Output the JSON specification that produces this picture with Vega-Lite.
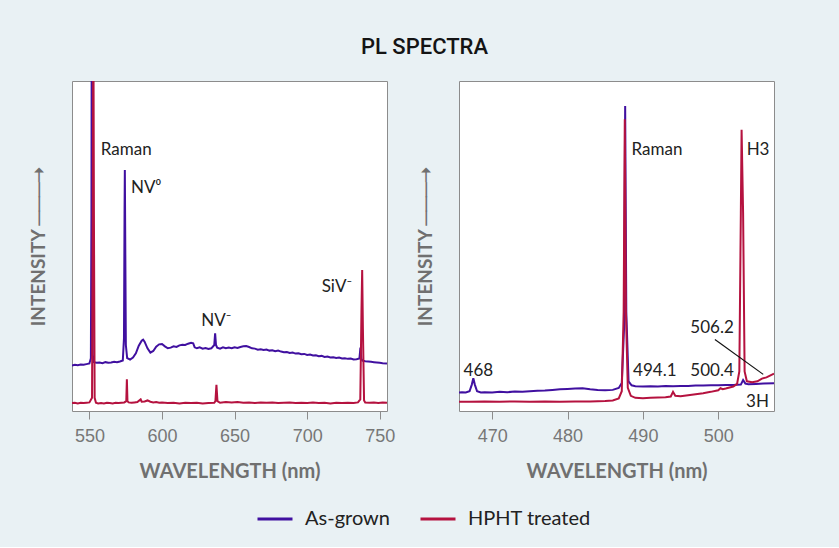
{
  "$schema": "https://vega.github.io/schema/vega-lite/v6.json",
  "background": "#E9F1F4",
  "padding": {"left": 28, "top": 35, "right": 64, "bottom": 18},
  "title": {"text": "PL SPECTRA", "font": "Roboto", "fontSize": 22, "fontWeight": 500, "color": "#141414", "offset": 22, "anchor": "middle", "dx": 23},
  "datasets": {
    "leftSpec": [
      {"wl": 538, "intensity": 13.8, "series": "As-grown"},
      {"wl": 540, "intensity": 14.0, "series": "As-grown"},
      {"wl": 542, "intensity": 13.9, "series": "As-grown"},
      {"wl": 544, "intensity": 14.1, "series": "As-grown"},
      {"wl": 546, "intensity": 14.0, "series": "As-grown"},
      {"wl": 548, "intensity": 14.2, "series": "As-grown"},
      {"wl": 550, "intensity": 14.4, "series": "As-grown"},
      {"wl": 551.0, "intensity": 16, "series": "As-grown"},
      {"wl": 551.4, "intensity": 60, "series": "As-grown"},
      {"wl": 551.6, "intensity": 125, "series": "As-grown"},
      {"wl": 551.9, "intensity": 60, "series": "As-grown"},
      {"wl": 552.3, "intensity": 17, "series": "As-grown"},
      {"wl": 553, "intensity": 14.8, "series": "As-grown"},
      {"wl": 555, "intensity": 14.6, "series": "As-grown"},
      {"wl": 557, "intensity": 14.7, "series": "As-grown"},
      {"wl": 559, "intensity": 14.5, "series": "As-grown"},
      {"wl": 561, "intensity": 14.8, "series": "As-grown"},
      {"wl": 563, "intensity": 14.6, "series": "As-grown"},
      {"wl": 565, "intensity": 14.7, "series": "As-grown"},
      {"wl": 567, "intensity": 14.9, "series": "As-grown"},
      {"wl": 569, "intensity": 14.8, "series": "As-grown"},
      {"wl": 571, "intensity": 15.0, "series": "As-grown"},
      {"wl": 573, "intensity": 15.3, "series": "As-grown"},
      {"wl": 573.8, "intensity": 22, "series": "As-grown"},
      {"wl": 574.2, "intensity": 60, "series": "As-grown"},
      {"wl": 574.4, "intensity": 73, "series": "As-grown"},
      {"wl": 574.7, "intensity": 50, "series": "As-grown"},
      {"wl": 575.1, "intensity": 20, "series": "As-grown"},
      {"wl": 576, "intensity": 16.0, "series": "As-grown"},
      {"wl": 578, "intensity": 15.6, "series": "As-grown"},
      {"wl": 580, "intensity": 16.2, "series": "As-grown"},
      {"wl": 582, "intensity": 17.5, "series": "As-grown"},
      {"wl": 584, "intensity": 19.8, "series": "As-grown"},
      {"wl": 586, "intensity": 21.3, "series": "As-grown"},
      {"wl": 587, "intensity": 21.6, "series": "As-grown"},
      {"wl": 588, "intensity": 21.0, "series": "As-grown"},
      {"wl": 590, "intensity": 19.0, "series": "As-grown"},
      {"wl": 592, "intensity": 17.7, "series": "As-grown"},
      {"wl": 594, "intensity": 18.2, "series": "As-grown"},
      {"wl": 596, "intensity": 19.5, "series": "As-grown"},
      {"wl": 598, "intensity": 20.2, "series": "As-grown"},
      {"wl": 600, "intensity": 20.3, "series": "As-grown"},
      {"wl": 602, "intensity": 19.6, "series": "As-grown"},
      {"wl": 604, "intensity": 19.0, "series": "As-grown"},
      {"wl": 606, "intensity": 19.2, "series": "As-grown"},
      {"wl": 608, "intensity": 19.6, "series": "As-grown"},
      {"wl": 610, "intensity": 19.4, "series": "As-grown"},
      {"wl": 612, "intensity": 19.9, "series": "As-grown"},
      {"wl": 614, "intensity": 20.1, "series": "As-grown"},
      {"wl": 616, "intensity": 20.0, "series": "As-grown"},
      {"wl": 618, "intensity": 20.4, "series": "As-grown"},
      {"wl": 620, "intensity": 20.7, "series": "As-grown"},
      {"wl": 621.5, "intensity": 20.5, "series": "As-grown"},
      {"wl": 622.5, "intensity": 19.3, "series": "As-grown"},
      {"wl": 624, "intensity": 19.0, "series": "As-grown"},
      {"wl": 626, "intensity": 19.3, "series": "As-grown"},
      {"wl": 628, "intensity": 18.9, "series": "As-grown"},
      {"wl": 630, "intensity": 19.1, "series": "As-grown"},
      {"wl": 632, "intensity": 18.8, "series": "As-grown"},
      {"wl": 634, "intensity": 19.0, "series": "As-grown"},
      {"wl": 636, "intensity": 20, "series": "As-grown"},
      {"wl": 636.6, "intensity": 23.5, "series": "As-grown"},
      {"wl": 637.2, "intensity": 20, "series": "As-grown"},
      {"wl": 638, "intensity": 19.2, "series": "As-grown"},
      {"wl": 640, "intensity": 18.9, "series": "As-grown"},
      {"wl": 642, "intensity": 19.3, "series": "As-grown"},
      {"wl": 644, "intensity": 19.0, "series": "As-grown"},
      {"wl": 646, "intensity": 19.2, "series": "As-grown"},
      {"wl": 648, "intensity": 19.0, "series": "As-grown"},
      {"wl": 650, "intensity": 19.3, "series": "As-grown"},
      {"wl": 652, "intensity": 19.1, "series": "As-grown"},
      {"wl": 654, "intensity": 19.4, "series": "As-grown"},
      {"wl": 656, "intensity": 19.6, "series": "As-grown"},
      {"wl": 658, "intensity": 19.7, "series": "As-grown"},
      {"wl": 660, "intensity": 19.4, "series": "As-grown"},
      {"wl": 662, "intensity": 19.0, "series": "As-grown"},
      {"wl": 664, "intensity": 18.9, "series": "As-grown"},
      {"wl": 666, "intensity": 18.6, "series": "As-grown"},
      {"wl": 668, "intensity": 18.7, "series": "As-grown"},
      {"wl": 670, "intensity": 18.5, "series": "As-grown"},
      {"wl": 672, "intensity": 18.6, "series": "As-grown"},
      {"wl": 674, "intensity": 18.3, "series": "As-grown"},
      {"wl": 676, "intensity": 18.4, "series": "As-grown"},
      {"wl": 678, "intensity": 18.1, "series": "As-grown"},
      {"wl": 680, "intensity": 18.3, "series": "As-grown"},
      {"wl": 682, "intensity": 18.0, "series": "As-grown"},
      {"wl": 684, "intensity": 17.8, "series": "As-grown"},
      {"wl": 686, "intensity": 17.9, "series": "As-grown"},
      {"wl": 688, "intensity": 17.6, "series": "As-grown"},
      {"wl": 690, "intensity": 17.7, "series": "As-grown"},
      {"wl": 692, "intensity": 17.4, "series": "As-grown"},
      {"wl": 694, "intensity": 17.5, "series": "As-grown"},
      {"wl": 696, "intensity": 17.2, "series": "As-grown"},
      {"wl": 698, "intensity": 17.3, "series": "As-grown"},
      {"wl": 700, "intensity": 17.0, "series": "As-grown"},
      {"wl": 702, "intensity": 17.1, "series": "As-grown"},
      {"wl": 704, "intensity": 16.8, "series": "As-grown"},
      {"wl": 706, "intensity": 16.9, "series": "As-grown"},
      {"wl": 708, "intensity": 16.6, "series": "As-grown"},
      {"wl": 710, "intensity": 16.7, "series": "As-grown"},
      {"wl": 712, "intensity": 16.4, "series": "As-grown"},
      {"wl": 714, "intensity": 16.5, "series": "As-grown"},
      {"wl": 716, "intensity": 16.2, "series": "As-grown"},
      {"wl": 718, "intensity": 16.3, "series": "As-grown"},
      {"wl": 720, "intensity": 16.1, "series": "As-grown"},
      {"wl": 722, "intensity": 16.2, "series": "As-grown"},
      {"wl": 724, "intensity": 15.9, "series": "As-grown"},
      {"wl": 726, "intensity": 16.0, "series": "As-grown"},
      {"wl": 728, "intensity": 15.8, "series": "As-grown"},
      {"wl": 730, "intensity": 15.9, "series": "As-grown"},
      {"wl": 732, "intensity": 15.6, "series": "As-grown"},
      {"wl": 734, "intensity": 15.7, "series": "As-grown"},
      {"wl": 736, "intensity": 15.9, "series": "As-grown"},
      {"wl": 736.7, "intensity": 19.2, "series": "As-grown"},
      {"wl": 737.3, "intensity": 15.8, "series": "As-grown"},
      {"wl": 738, "intensity": 15.3, "series": "As-grown"},
      {"wl": 740, "intensity": 15.1, "series": "As-grown"},
      {"wl": 742, "intensity": 15.0, "series": "As-grown"},
      {"wl": 744, "intensity": 14.9, "series": "As-grown"},
      {"wl": 746, "intensity": 14.8, "series": "As-grown"},
      {"wl": 748, "intensity": 14.7, "series": "As-grown"},
      {"wl": 750, "intensity": 14.6, "series": "As-grown"},
      {"wl": 752, "intensity": 14.5, "series": "As-grown"},
      {"wl": 755, "intensity": 14.4, "series": "As-grown"},
      {"wl": 538, "intensity": 2.4, "series": "HPHT treated"},
      {"wl": 540, "intensity": 2.5, "series": "HPHT treated"},
      {"wl": 542, "intensity": 2.3, "series": "HPHT treated"},
      {"wl": 544, "intensity": 2.5, "series": "HPHT treated"},
      {"wl": 546, "intensity": 2.4, "series": "HPHT treated"},
      {"wl": 548, "intensity": 2.5, "series": "HPHT treated"},
      {"wl": 550, "intensity": 2.6, "series": "HPHT treated"},
      {"wl": 551.8, "intensity": 4, "series": "HPHT treated"},
      {"wl": 552.3, "intensity": 60, "series": "HPHT treated"},
      {"wl": 552.7, "intensity": 125, "series": "HPHT treated"},
      {"wl": 553.1, "intensity": 60, "series": "HPHT treated"},
      {"wl": 553.6, "intensity": 4, "series": "HPHT treated"},
      {"wl": 554.5, "intensity": 2.5, "series": "HPHT treated"},
      {"wl": 556, "intensity": 2.3, "series": "HPHT treated"},
      {"wl": 558, "intensity": 2.4, "series": "HPHT treated"},
      {"wl": 560, "intensity": 2.3, "series": "HPHT treated"},
      {"wl": 562, "intensity": 2.5, "series": "HPHT treated"},
      {"wl": 564, "intensity": 2.4, "series": "HPHT treated"},
      {"wl": 566, "intensity": 2.3, "series": "HPHT treated"},
      {"wl": 568, "intensity": 2.5, "series": "HPHT treated"},
      {"wl": 570, "intensity": 2.4, "series": "HPHT treated"},
      {"wl": 572, "intensity": 2.5, "series": "HPHT treated"},
      {"wl": 574, "intensity": 2.6, "series": "HPHT treated"},
      {"wl": 575.4, "intensity": 3.0, "series": "HPHT treated"},
      {"wl": 575.8, "intensity": 9.6, "series": "HPHT treated"},
      {"wl": 576.2, "intensity": 3.0, "series": "HPHT treated"},
      {"wl": 577, "intensity": 2.6, "series": "HPHT treated"},
      {"wl": 579, "intensity": 2.5, "series": "HPHT treated"},
      {"wl": 581, "intensity": 2.6, "series": "HPHT treated"},
      {"wl": 583, "intensity": 2.7, "series": "HPHT treated"},
      {"wl": 585.3, "intensity": 3.5, "series": "HPHT treated"},
      {"wl": 586, "intensity": 2.8, "series": "HPHT treated"},
      {"wl": 588, "intensity": 2.9, "series": "HPHT treated"},
      {"wl": 590, "intensity": 3.2, "series": "HPHT treated"},
      {"wl": 592, "intensity": 2.8, "series": "HPHT treated"},
      {"wl": 594, "intensity": 2.6, "series": "HPHT treated"},
      {"wl": 596, "intensity": 2.7, "series": "HPHT treated"},
      {"wl": 598, "intensity": 2.5, "series": "HPHT treated"},
      {"wl": 600, "intensity": 2.6, "series": "HPHT treated"},
      {"wl": 604, "intensity": 2.4, "series": "HPHT treated"},
      {"wl": 608, "intensity": 2.5, "series": "HPHT treated"},
      {"wl": 612, "intensity": 2.3, "series": "HPHT treated"},
      {"wl": 616, "intensity": 2.5, "series": "HPHT treated"},
      {"wl": 620, "intensity": 2.4, "series": "HPHT treated"},
      {"wl": 624, "intensity": 2.5, "series": "HPHT treated"},
      {"wl": 628, "intensity": 2.3, "series": "HPHT treated"},
      {"wl": 632, "intensity": 2.4, "series": "HPHT treated"},
      {"wl": 636, "intensity": 2.5, "series": "HPHT treated"},
      {"wl": 636.8, "intensity": 3.0, "series": "HPHT treated"},
      {"wl": 637.5, "intensity": 7.9, "series": "HPHT treated"},
      {"wl": 638.2, "intensity": 3.0, "series": "HPHT treated"},
      {"wl": 640, "intensity": 2.5, "series": "HPHT treated"},
      {"wl": 644, "intensity": 2.7, "series": "HPHT treated"},
      {"wl": 648, "intensity": 2.6, "series": "HPHT treated"},
      {"wl": 652, "intensity": 2.7, "series": "HPHT treated"},
      {"wl": 656, "intensity": 2.5, "series": "HPHT treated"},
      {"wl": 660, "intensity": 2.6, "series": "HPHT treated"},
      {"wl": 664, "intensity": 2.4, "series": "HPHT treated"},
      {"wl": 668, "intensity": 2.6, "series": "HPHT treated"},
      {"wl": 672, "intensity": 2.5, "series": "HPHT treated"},
      {"wl": 676, "intensity": 2.6, "series": "HPHT treated"},
      {"wl": 680, "intensity": 2.4, "series": "HPHT treated"},
      {"wl": 684, "intensity": 2.5, "series": "HPHT treated"},
      {"wl": 688, "intensity": 2.6, "series": "HPHT treated"},
      {"wl": 692, "intensity": 2.4, "series": "HPHT treated"},
      {"wl": 696, "intensity": 2.5, "series": "HPHT treated"},
      {"wl": 700, "intensity": 2.4, "series": "HPHT treated"},
      {"wl": 704, "intensity": 2.6, "series": "HPHT treated"},
      {"wl": 708, "intensity": 2.4, "series": "HPHT treated"},
      {"wl": 712, "intensity": 2.5, "series": "HPHT treated"},
      {"wl": 716, "intensity": 2.3, "series": "HPHT treated"},
      {"wl": 720, "intensity": 2.5, "series": "HPHT treated"},
      {"wl": 724, "intensity": 2.4, "series": "HPHT treated"},
      {"wl": 728, "intensity": 2.5, "series": "HPHT treated"},
      {"wl": 732, "intensity": 2.4, "series": "HPHT treated"},
      {"wl": 735, "intensity": 2.6, "series": "HPHT treated"},
      {"wl": 736.6, "intensity": 3.5, "series": "HPHT treated"},
      {"wl": 737.4, "intensity": 30, "series": "HPHT treated"},
      {"wl": 737.9, "intensity": 42.7, "series": "HPHT treated"},
      {"wl": 738.4, "intensity": 25, "series": "HPHT treated"},
      {"wl": 739.2, "intensity": 3.2, "series": "HPHT treated"},
      {"wl": 740, "intensity": 2.6, "series": "HPHT treated"},
      {"wl": 743, "intensity": 2.5, "series": "HPHT treated"},
      {"wl": 746, "intensity": 2.6, "series": "HPHT treated"},
      {"wl": 749, "intensity": 2.4, "series": "HPHT treated"},
      {"wl": 752, "intensity": 2.6, "series": "HPHT treated"},
      {"wl": 755, "intensity": 2.5, "series": "HPHT treated"}
    ],
    "rightSpec": [
      {"wl": 465.6, "intensity": 5.6, "series": "As-grown"},
      {"wl": 466, "intensity": 5.7, "series": "As-grown"},
      {"wl": 466.5, "intensity": 5.6, "series": "As-grown"},
      {"wl": 467, "intensity": 6.0, "series": "As-grown"},
      {"wl": 467.3, "intensity": 8.0, "series": "As-grown"},
      {"wl": 467.5, "intensity": 9.9, "series": "As-grown"},
      {"wl": 467.7, "intensity": 8.0, "series": "As-grown"},
      {"wl": 468.0, "intensity": 6.0, "series": "As-grown"},
      {"wl": 468.5, "intensity": 5.6, "series": "As-grown"},
      {"wl": 469, "intensity": 5.7, "series": "As-grown"},
      {"wl": 470, "intensity": 5.6, "series": "As-grown"},
      {"wl": 471, "intensity": 5.8, "series": "As-grown"},
      {"wl": 472, "intensity": 5.7, "series": "As-grown"},
      {"wl": 473, "intensity": 5.9, "series": "As-grown"},
      {"wl": 474, "intensity": 5.8, "series": "As-grown"},
      {"wl": 475, "intensity": 6.0, "series": "As-grown"},
      {"wl": 476, "intensity": 6.1, "series": "As-grown"},
      {"wl": 477, "intensity": 6.2, "series": "As-grown"},
      {"wl": 478, "intensity": 6.4, "series": "As-grown"},
      {"wl": 479, "intensity": 6.6, "series": "As-grown"},
      {"wl": 480, "intensity": 6.7, "series": "As-grown"},
      {"wl": 481, "intensity": 6.8, "series": "As-grown"},
      {"wl": 482, "intensity": 6.9, "series": "As-grown"},
      {"wl": 483, "intensity": 6.6, "series": "As-grown"},
      {"wl": 484, "intensity": 6.4, "series": "As-grown"},
      {"wl": 485, "intensity": 6.3, "series": "As-grown"},
      {"wl": 486, "intensity": 6.4, "series": "As-grown"},
      {"wl": 486.8, "intensity": 7.0, "series": "As-grown"},
      {"wl": 487.2, "intensity": 8.5, "series": "As-grown"},
      {"wl": 487.5, "intensity": 25, "series": "As-grown"},
      {"wl": 487.65, "intensity": 92.4, "series": "As-grown"},
      {"wl": 487.8, "intensity": 30, "series": "As-grown"},
      {"wl": 488.1, "intensity": 9.0, "series": "As-grown"},
      {"wl": 488.5, "intensity": 7.8, "series": "As-grown"},
      {"wl": 489, "intensity": 7.5, "series": "As-grown"},
      {"wl": 490, "intensity": 7.4, "series": "As-grown"},
      {"wl": 491, "intensity": 7.5, "series": "As-grown"},
      {"wl": 492, "intensity": 7.4, "series": "As-grown"},
      {"wl": 493, "intensity": 7.6, "series": "As-grown"},
      {"wl": 494, "intensity": 7.5, "series": "As-grown"},
      {"wl": 495, "intensity": 7.6, "series": "As-grown"},
      {"wl": 496, "intensity": 7.6, "series": "As-grown"},
      {"wl": 497, "intensity": 7.7, "series": "As-grown"},
      {"wl": 498, "intensity": 7.7, "series": "As-grown"},
      {"wl": 499, "intensity": 7.8, "series": "As-grown"},
      {"wl": 500, "intensity": 7.8, "series": "As-grown"},
      {"wl": 501, "intensity": 7.9, "series": "As-grown"},
      {"wl": 502, "intensity": 7.9, "series": "As-grown"},
      {"wl": 503, "intensity": 8.0, "series": "As-grown"},
      {"wl": 503.3, "intensity": 9.4, "series": "As-grown"},
      {"wl": 503.6, "intensity": 8.3, "series": "As-grown"},
      {"wl": 504, "intensity": 8.1, "series": "As-grown"},
      {"wl": 505, "intensity": 8.2, "series": "As-grown"},
      {"wl": 506, "intensity": 8.3, "series": "As-grown"},
      {"wl": 507.4, "intensity": 8.4, "series": "As-grown"},
      {"wl": 465.6, "intensity": 2.8, "series": "HPHT treated"},
      {"wl": 467, "intensity": 2.8, "series": "HPHT treated"},
      {"wl": 469, "intensity": 2.9, "series": "HPHT treated"},
      {"wl": 471, "intensity": 2.8, "series": "HPHT treated"},
      {"wl": 473, "intensity": 2.9, "series": "HPHT treated"},
      {"wl": 475, "intensity": 2.8, "series": "HPHT treated"},
      {"wl": 477, "intensity": 2.9, "series": "HPHT treated"},
      {"wl": 479, "intensity": 2.8, "series": "HPHT treated"},
      {"wl": 481, "intensity": 2.9, "series": "HPHT treated"},
      {"wl": 483, "intensity": 2.9, "series": "HPHT treated"},
      {"wl": 485, "intensity": 3.0, "series": "HPHT treated"},
      {"wl": 486, "intensity": 3.2, "series": "HPHT treated"},
      {"wl": 486.8, "intensity": 3.8, "series": "HPHT treated"},
      {"wl": 487.2, "intensity": 6.0, "series": "HPHT treated"},
      {"wl": 487.45, "intensity": 30, "series": "HPHT treated"},
      {"wl": 487.6, "intensity": 88.4, "series": "HPHT treated"},
      {"wl": 487.75, "intensity": 30, "series": "HPHT treated"},
      {"wl": 488.0, "intensity": 7.0, "series": "HPHT treated"},
      {"wl": 488.4, "intensity": 4.6, "series": "HPHT treated"},
      {"wl": 489, "intensity": 4.0, "series": "HPHT treated"},
      {"wl": 490, "intensity": 3.9, "series": "HPHT treated"},
      {"wl": 491, "intensity": 4.0, "series": "HPHT treated"},
      {"wl": 492, "intensity": 4.1, "series": "HPHT treated"},
      {"wl": 493, "intensity": 4.2, "series": "HPHT treated"},
      {"wl": 493.7, "intensity": 4.4, "series": "HPHT treated"},
      {"wl": 494.0, "intensity": 5.8, "series": "HPHT treated"},
      {"wl": 494.3, "intensity": 4.6, "series": "HPHT treated"},
      {"wl": 495, "intensity": 4.5, "series": "HPHT treated"},
      {"wl": 496, "intensity": 4.8, "series": "HPHT treated"},
      {"wl": 497, "intensity": 5.1, "series": "HPHT treated"},
      {"wl": 498, "intensity": 5.4, "series": "HPHT treated"},
      {"wl": 499, "intensity": 5.8, "series": "HPHT treated"},
      {"wl": 500, "intensity": 6.3, "series": "HPHT treated"},
      {"wl": 500.3, "intensity": 6.9, "series": "HPHT treated"},
      {"wl": 500.6, "intensity": 6.6, "series": "HPHT treated"},
      {"wl": 501, "intensity": 6.8, "series": "HPHT treated"},
      {"wl": 502, "intensity": 7.4, "series": "HPHT treated"},
      {"wl": 502.5, "intensity": 8.2, "series": "HPHT treated"},
      {"wl": 502.8, "intensity": 12, "series": "HPHT treated"},
      {"wl": 503.0, "intensity": 60, "series": "HPHT treated"},
      {"wl": 503.1, "intensity": 85.2, "series": "HPHT treated"},
      {"wl": 503.3, "intensity": 60, "series": "HPHT treated"},
      {"wl": 503.5, "intensity": 12, "series": "HPHT treated"},
      {"wl": 503.8, "intensity": 9.0, "series": "HPHT treated"},
      {"wl": 504.5, "intensity": 8.7, "series": "HPHT treated"},
      {"wl": 505.2, "intensity": 9.0, "series": "HPHT treated"},
      {"wl": 505.8, "intensity": 9.8, "series": "HPHT treated"},
      {"wl": 506.4, "intensity": 10.2, "series": "HPHT treated"},
      {"wl": 507, "intensity": 10.9, "series": "HPHT treated"},
      {"wl": 507.4, "intensity": 11.3, "series": "HPHT treated"}
    ],
    "leftLabels": [
      {"wl": 557.8, "intensity": 79.1, "label": "Raman"},
      {"wl": 578.6, "intensity": 67.6, "label": "NV⁰"},
      {"wl": 627, "intensity": 27.4, "label": "NV⁻"},
      {"wl": 710, "intensity": 37.7, "label": "SiV⁻"}
    ],
    "rightLabels": [
      {"wl": 488.5, "intensity": 79.1, "label": "Raman"},
      {"wl": 503.77, "intensity": 79.1, "label": "H3"},
      {"wl": 466.2, "intensity": 12.2, "label": "468"},
      {"wl": 488.7, "intensity": 12.2, "label": "494.1"},
      {"wl": 496.3, "intensity": 12.2, "label": "500.4"},
      {"wl": 496.3, "intensity": 25.1, "label": "506.2"},
      {"wl": 503.7, "intensity": 2.8, "label": "3H"}
    ],
    "leader": [
      {"wl": 499.56, "intensity": 21.7, "wl2": 505.97, "intensity2": 11.1}
    ]
  },
  "spacing": 19,
  "hconcat": [
    {
      "width": 315,
      "height": 330,
      "layer": [
        {
          "data": {"name": "leftSpec"},
          "mark": {"type": "line", "strokeWidth": 2, "clip": true},
          "encoding": {
            "x": {"field": "wl", "type": "quantitative", "scale": {"domain": [538, 755], "nice": false, "zero": false},
                  "axis": {"title": "WAVELENGTH (nm)", "values": [550, 600, 650, 700, 750]}},
            "y": {"field": "intensity", "type": "quantitative", "scale": {"domain": [0, 100], "nice": false},
                  "axis": {"title": "INTENSITY ───➝"}},
            "color": {"field": "series", "type": "nominal",
                      "scale": {"domain": ["As-grown", "HPHT treated"], "range": ["#4010A0", "#B5123F"]},
                      "legend": {"title": null, "orient": "none", "legendX": 184, "legendY": 419}}
          }
        },
        {
          "data": {"name": "leftLabels"},
          "mark": {"type": "text", "align": "left", "baseline": "middle", "font": "Lato", "fontSize": 17, "color": "#222222"},
          "encoding": {
            "x": {"field": "wl", "type": "quantitative"},
            "y": {"field": "intensity", "type": "quantitative"},
            "text": {"field": "label"}
          }
        }
      ]
    },
    {
      "width": 315,
      "height": 330,
      "layer": [
        {
          "data": {"name": "rightSpec"},
          "mark": {"type": "line", "strokeWidth": 2, "clip": true},
          "encoding": {
            "x": {"field": "wl", "type": "quantitative", "scale": {"domain": [465.6, 507.4], "nice": false, "zero": false},
                  "axis": {"title": "WAVELENGTH (nm)", "values": [470, 480, 490, 500]}},
            "y": {"field": "intensity", "type": "quantitative", "scale": {"domain": [0, 100], "nice": false},
                  "axis": {"title": "INTENSITY ───➝"}},
            "color": {"field": "series", "type": "nominal",
                      "scale": {"domain": ["As-grown", "HPHT treated"], "range": ["#4010A0", "#B5123F"]},
                      "legend": {"title": null, "orient": "none", "legendX": 184, "legendY": 419}}
          }
        },
        {
          "data": {"name": "leader"},
          "mark": {"type": "rule", "color": "#111111", "strokeWidth": 1.2},
          "encoding": {
            "x": {"field": "wl", "type": "quantitative"},
            "y": {"field": "intensity", "type": "quantitative"},
            "x2": {"field": "wl2"},
            "y2": {"field": "intensity2"}
          }
        },
        {
          "data": {"name": "rightLabels"},
          "mark": {"type": "text", "align": "left", "baseline": "middle", "font": "Lato", "fontSize": 17, "color": "#222222"},
          "encoding": {
            "x": {"field": "wl", "type": "quantitative"},
            "y": {"field": "intensity", "type": "quantitative"},
            "text": {"field": "label"}
          }
        }
      ]
    }
  ],
  "config": {
    "view": {"stroke": "#8c8c8c", "strokeWidth": 1, "fill": "#ffffff"},
    "axis": {"grid": false},
    "axisX": {"domain": false, "tickColor": "#8c8c8c", "tickSize": 8, "tickWidth": 1,
              "labelFont": "Liberation Sans", "labelFontSize": 18, "labelColor": "#777777", "labelPadding": 8,
              "titleFont": "Lato", "titleFontSize": 20, "titleFontWeight": "bold", "titleColor": "#707070", "titlePadding": 16},
    "axisY": {"domain": false, "ticks": false, "labels": false,
              "titleFont": "Lato", "titleFontSize": 19, "titleFontWeight": "bold", "titleColor": "#707070", "titlePadding": 24},
    "legend": {"direction": "horizontal", "symbolType": "stroke", "symbolSize": 1225, "symbolStrokeWidth": 3,
               "labelFont": "Lato", "labelFontSize": 20, "labelColor": "#222222", "labelOffset": 11, "columnPadding": 24}
  }
}
